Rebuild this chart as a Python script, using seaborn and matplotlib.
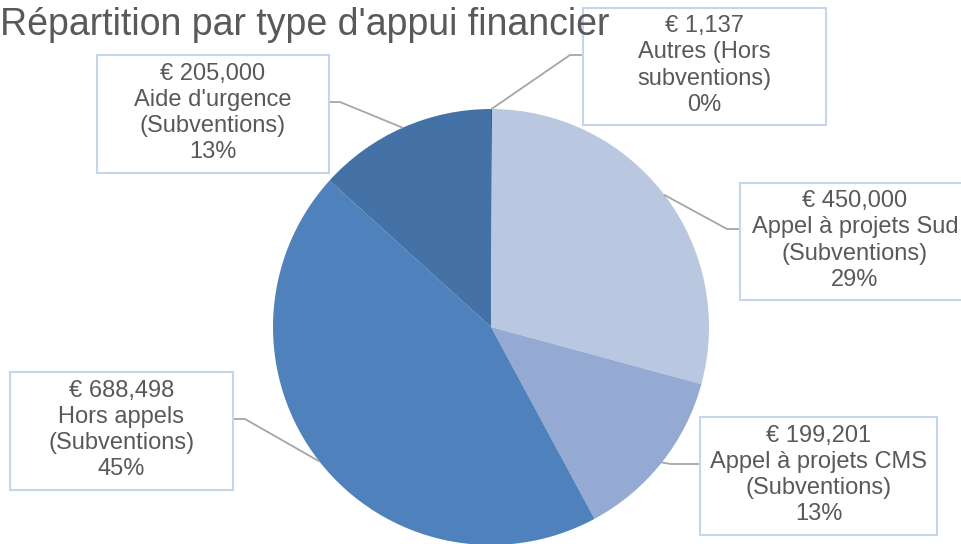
import numpy as np
import seaborn as sns
import matplotlib.pyplot as plt
from matplotlib.patches import Rectangle

# data
categories = ["Autres (Hors\nsubventions)", "Appel à projets Sud\n(Subventions)",
              "Appel à projets CMS\n(Subventions)", "Hors appels\n(Subventions)",
              "Aide d'urgence\n(Subventions)"]
amounts = [1137, 450000, 199201, 688498, 205000]
colors = ["#2F5580", "#B9C7E1", "#95AAD2", "#4F81BD", "#4472A6"]

# label boxes in pixels (x0, y0 from top, width, height) and leader elbow (x, y)
boxes = [(583, 8, 243, 117), (740, 183, 230, 117), (700, 417, 237, 118),
         (10, 372, 223, 118), (97, 55, 232, 118)]
elbows = [((583, 55), (570, 55)), ((740, 229), (727, 229)), ((700, 464), (671, 464)),
          ((233, 419), (245, 419)), ((330, 102), (340, 102))]

W, H = 962, 544
cx, cy, r = 491, 327, 218

sns.set_theme(style="white")
plt.rcParams['font.family'] = ['Liberation Sans', 'DejaVu Sans']

fig = plt.figure(figsize=(W / 100, H / 100), dpi=100)
ax = fig.add_axes([0, 0, 1, 1])

wedges, _ = ax.pie(amounts, colors=colors, startangle=90, counterclock=False,
                   center=(cx, H - cy), radius=r, wedgeprops=dict(linewidth=0))
ax.set_xlim(0, W)
ax.set_ylim(0, H)
ax.set_aspect('equal')
ax.axis('off')

total = sum(amounts)
for w, cat, amt, box, (side, elbow) in zip(wedges, categories, amounts, boxes, elbows):
    mid = np.deg2rad((w.theta1 + w.theta2) / 2)
    ex, ey = cx + r * np.cos(mid), (H - cy) + r * np.sin(mid)
    ax.plot([ex, elbow[0], side[0]], [ey, H - elbow[1], H - side[1]],
            color="#A6A6A6", lw=1.3, zorder=3)
    x0, y0, bw, bh = box
    ax.add_patch(Rectangle((x0, H - y0 - bh), bw, bh, facecolor="white",
                           edgecolor="#C5D5EA", lw=1.5, zorder=4))
    pct = round(amt / total * 100)
    txt = f"€ {amt:,}\n{cat}\n{pct}%"
    ax.text(x0 + bw / 2, H - y0 - bh / 2 + 1, txt, ha="center", va="center",
            fontsize=17, color="#595959", linespacing=1.25, zorder=5)

fig.text(0, 1 - 25 / H, "Répartition par type d'appui financier", ha="left", va="center",
         fontsize=27, color="#595959")

fig.savefig("out.png", dpi=100)
